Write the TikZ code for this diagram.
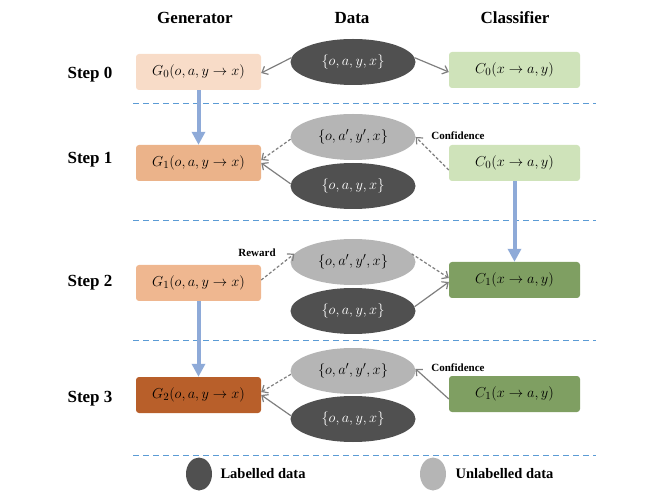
\documentclass[tikz,border=0pt]{standalone}
\usepackage{fontspec}
\setmainfont{Liberation Serif}
\usetikzlibrary{arrows.meta,shapes.geometric}
\definecolor{gzero}{HTML}{F8DCC8}
\definecolor{gone}{HTML}{EBB38A}
\definecolor{gonel}{HTML}{EFB790}
\definecolor{gtwo}{HTML}{B85F2A}
\definecolor{czero}{HTML}{CFE3BA}
\definecolor{cone}{HTML}{7F9F62}
\definecolor{darkel}{HTML}{505050}
\definecolor{lightel}{HTML}{B5B5B5}
\definecolor{sepblue}{HTML}{5B9BD5}
\definecolor{flowblue}{HTML}{8EAAD8}
\definecolor{arrgray}{HTML}{7F7F7F}
\tikzset{
  box/.style={rectangle,rounded corners=3pt,minimum height=36pt,inner sep=0pt,font=\fontsize{15}{17}\selectfont},
  gbox/.style={box,minimum width=125pt},
  cbox/.style={box,minimum width=131pt},
  lab/.style={ellipse,fill=darkel,minimum width=125pt,minimum height=46pt,inner sep=0pt,text=white,font=\fontsize{15}{17}\selectfont},
  unlab/.style={ellipse,fill=lightel,minimum width=125pt,minimum height=46pt,inner sep=0pt,font=\fontsize{15}{17}\selectfont},
  header/.style={font=\fontsize{17}{19}\selectfont\bfseries},
  steplab/.style={font=\fontsize{17}{19}\selectfont\bfseries},
  small/.style={font=\fontsize{11}{12}\selectfont\bfseries},
  legtext/.style={font=\fontsize{14.5}{16}\selectfont\bfseries,anchor=west},
  sep/.style={sepblue,line width=1pt,dash pattern=on 6pt off 4pt},
  flow/.style={flowblue,line width=4pt,-{Triangle[width=13pt,length=13pt]}},
  garr/.style={arrgray,line width=1.2pt,-{Straight Barb[length=5pt,width=9pt]}},
  gdash/.style={garr,dash pattern=on 3pt off 2pt},
}
\begin{document}
\begin{tikzpicture}[x=1pt,y=-1pt]
\useasboundingbox (0,0) rectangle (664,494);
% headers
\node[header] (hg) at (195,18) {Generator};
\node[header] (hd) at (352,18) {Data};
\node[header] (hc) at (515,18) {Classifier};
% step labels
\node[steplab] (s0) at (90,75) {Step 0};
\node[steplab] (s1) at (90,160) {Step 1};
\node[steplab] (s2) at (90,283) {Step 2};
\node[steplab] (s3) at (90,399) {Step 3};
% separators
\coordinate (l1a) at (133,104); \coordinate (l1b) at (596,104);
\coordinate (l2a) at (133,221); \coordinate (l2b) at (596,221);
\coordinate (l3a) at (133,340); \coordinate (l3b) at (596,340);
\coordinate (l4a) at (133,455); \coordinate (l4b) at (596,455);
\draw[sep] (l1a) -- (l1b);
\draw[sep] (l2a) -- (l2b);
\draw[sep] (l3a) -- (l3b);
\draw[sep] (l4a) -- (l4b);
% generator boxes
\node[gbox,fill=gzero] (g0) at (198.5,72) {$G_0(o,a,y\rightarrow x)$};
\node[gbox,fill=gone] (g1) at (198.5,163) {$G_1(o,a,y\rightarrow x)$};
\node[gbox,fill=gonel] (g1b) at (198.5,283) {$G_1(o,a,y\rightarrow x)$};
\node[gbox,fill=gtwo] (g2) at (198.5,395) {$G_2(o,a,y\rightarrow x)$};
% classifier boxes
\node[cbox,fill=czero] (c0) at (514.5,70) {$C_0(x\rightarrow a,y)$};
\node[cbox,fill=czero] (c0b) at (514.5,163) {$C_0(x\rightarrow a,y)$};
\node[cbox,fill=cone] (c1) at (514.5,280) {$C_1(x\rightarrow a,y)$};
\node[cbox,fill=cone] (c1b) at (514.5,394) {$C_1(x\rightarrow a,y)$};
% data ellipses
\node[lab] (d0) at (353,62) {$\{o,a,y,x\}$};
\node[unlab] (u1) at (353,137) {$\{o,a',y',x\}$};
\node[lab] (d1) at (353,186) {$\{o,a,y,x\}$};
\node[unlab] (u2) at (353,262) {$\{o,a',y',x\}$};
\node[lab] (d2) at (353,311) {$\{o,a,y,x\}$};
\node[unlab] (u3) at (353,371) {$\{o,a',y',x\}$};
\node[lab] (d3) at (353,419) {$\{o,a,y,x\}$};
% step 0
\draw[garr] (d0.176) -- ([yshift=-1pt]g0.east);
\draw[garr] (d0.4) -- ([yshift=-2pt]c0.west);
% step 1
\draw[gdash] (u1.182) -- ([yshift=3pt]g1.east);
\draw[garr] (d1.178) -- (g1.east);
\draw[gdash] ([yshift=-7pt]c0b.west) -- (u1.0);
\node[small] (conf1) at (458,136) {Confidence};
% step 2
\draw[gdash] ([yshift=3pt]g1b.east) -- (u2.172);
\node[small] (rew) at (257,253) {Reward};
\draw[gdash] (u2.8) -- ([yshift=2pt]c1.west);
\draw[garr] (d2.4) -- ([yshift=-2pt]c1.west);
% step 3
\draw[gdash] (u3.183) -- ([yshift=3pt]g2.east);
\draw[garr] (d3.177) -- (g2.east);
\draw[garr] ([yshift=-5pt]c1b.west) -- (u3.2);
\node[small] (conf3) at (458,368) {Confidence};
% blue flow arrows
\draw[flow] (g0.south) -- (g1.north);
\draw[flow] (c0b.south) -- (c1.north);
\draw[flow] (g1b.south) -- (g2.north);
% legend
\node[ellipse,fill=darkel,minimum width=26pt,minimum height=33pt,inner sep=0pt] (ld) at (199,474) {};
\node[legtext] (ldt) at (217,474) {Labelled data};
\node[ellipse,fill=lightel,minimum width=26pt,minimum height=33pt,inner sep=0pt] (lu) at (433,474) {};
\node[legtext] (lut) at (452,474) {Unlabelled data};
\end{tikzpicture}
\end{document}
